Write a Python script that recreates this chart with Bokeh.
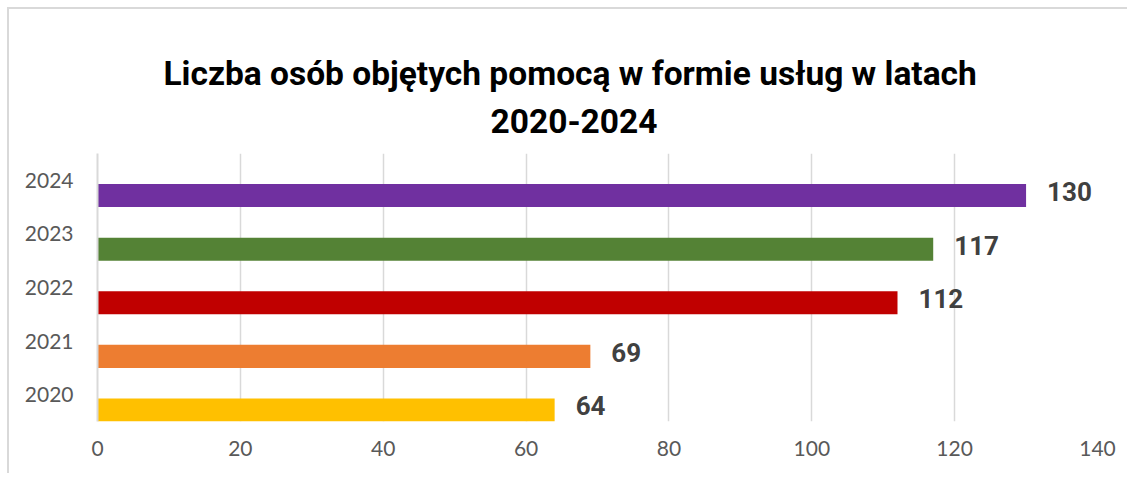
from bokeh.plotting import figure
from bokeh.models import ColumnDataSource, FixedTicker, Title
from bokeh.transform import dodge
from bokeh.core.properties import value
from bokeh.embed import file_html
from bokeh.resources import INLINE

years = ["2020", "2021", "2022", "2023", "2024"]
counts = [64, 69, 112, 117, 130]
colors = ["#FFC000", "#ED7D31", "#C00000", "#548235", "#7030A0"]
x_ticks = [0, 20, 40, 60, 80, 100, 120, 140]
title_line1 = "Liczba osób objętych pomocą w formie usług w latach"
title_line2 = "2020-2024"

src = ColumnDataSource(dict(year=years, count=counts, color=colors,
                            label=[str(c) for c in counts]))

p = figure(width=1120, height=466, y_range=years, x_range=(0, 140),
           output_backend="svg", toolbar_location=None,
           min_border_left=88, min_border_right=32,
           min_border_top=144, min_border_bottom=54)
p.styles = {"border-top": "2px solid #d9d9d9", "border-left": "2px solid #d9d9d9",
            "margin-left": "7px", "margin-top": "7px"}
p.outline_line_color = None
p.background_fill_color = "white"
p.border_fill_color = "white"

ydodge = dodge("year", -0.285, range=p.y_range)
p.hbar(y=ydodge, left=0, right="count", height=0.43, color="color",
       line_color=None, source=src)
p.text(x="count", y=ydodge, text="label", source=src, x_offset=21, y_offset=-4,
       text_align="left", text_baseline="middle",
       text_font=value("Roboto"), text_font_style="bold",
       text_font_size="26px", text_color="#404040")

p.xaxis.ticker = FixedTicker(ticks=x_ticks)
p.xaxis.axis_line_color = None
p.xaxis.major_tick_line_color = None
p.xaxis.minor_tick_line_color = None
p.xaxis.major_label_text_font = "Lato"
p.xaxis.major_label_text_font_size = "21px"
p.xaxis.major_label_text_color = "#595959"
p.xaxis.major_label_standoff = 13

p.yaxis.axis_line_color = "#d9d9d9"
p.yaxis.axis_line_width = 2
p.yaxis.major_tick_line_color = None
p.yaxis.minor_tick_line_color = None
p.yaxis.major_tick_out = 0
p.yaxis.major_label_text_font = "Lato"
p.yaxis.major_label_text_font_size = "21px"
p.yaxis.major_label_text_color = "#595959"
p.yaxis.major_label_standoff = 24

p.xgrid.grid_line_color = "#d9d9d9"
p.xgrid.grid_line_width = 1.5
p.ygrid.grid_line_color = None

for txt, off, so in [(title_line2, 393, 42), (title_line1, 66, -14)]:
    p.add_layout(Title(text=txt, align="left", offset=off, standoff=so,
                       text_font="Roboto", text_font_style="bold",
                       text_font_size="33.5px", text_color="black"), "above")

open("out.html", "w").write(file_html(p, INLINE))
